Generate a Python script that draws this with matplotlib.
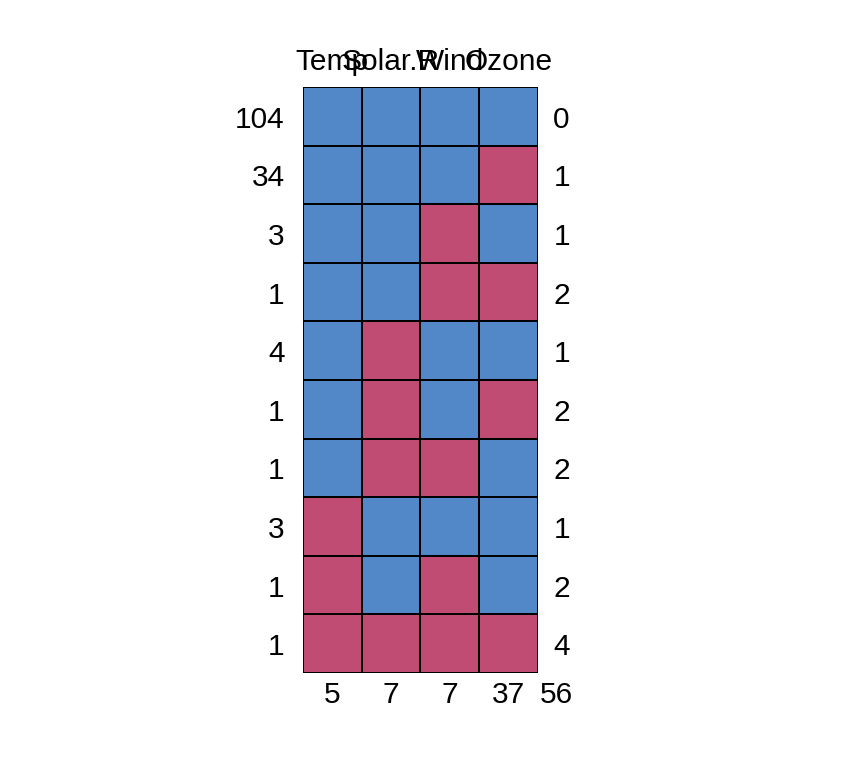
import matplotlib
matplotlib.use("Agg")
import matplotlib.pyplot as plt
from matplotlib.colors import ListedColormap
import numpy as np

variables = ["Temp", "Solar.R", "Wind", "Ozone"]
row_counts = [104, 34, 3, 1, 4, 1, 1, 3, 1, 1]
patterns = [
    [1, 1, 1, 1],
    [1, 1, 1, 0],
    [1, 1, 0, 1],
    [1, 1, 0, 0],
    [1, 0, 1, 1],
    [1, 0, 1, 0],
    [1, 0, 0, 1],
    [0, 1, 1, 1],
    [0, 1, 0, 1],
    [0, 0, 0, 0],
]
row_missing = [0, 1, 1, 2, 1, 2, 2, 1, 2, 4]
col_missing = [5, 7, 7, 37]
total_missing = 56

blue = "#5287C8"
pink = "#C04C74"
plt.rcParams['font.family'] = ['Liberation Sans', 'DejaVu Sans']

fig = plt.figure(figsize=(8.42, 7.6), dpi=100)
ax = fig.add_axes([303/842, 1-673/760, 235/842, 586/760])

nrow = len(patterns)
ncol = len(variables)
Z = np.array(patterns)[::-1]
ax.pcolormesh(np.arange(ncol+1), np.arange(nrow+1), Z,
              cmap=ListedColormap([pink, blue]), vmin=0, vmax=1,
              edgecolors="black", linewidth=1.3)
ax.set_xlim(0, ncol)
ax.set_ylim(0, nrow)
ax.axis("off")

fs = 21.5
for j, v in enumerate(variables):
    ax.text(j + 0.5, nrow + 0.43, v, ha="center", va="center", fontsize=fs)
    ax.text(j + 0.5, -0.37, str(col_missing[j]), ha="center", va="center", fontsize=fs)
ax.text(4.03, -0.37, str(total_missing), ha="left", va="center", fontsize=fs)
for i in range(nrow):
    y = nrow - i - 0.56
    ax.text(-0.31, y, str(row_counts[i]), ha="right", va="center", fontsize=fs)
    ax.text(4.26, y, str(row_missing[i]), ha="left", va="center", fontsize=fs)

fig.savefig("out.png", dpi=100)
